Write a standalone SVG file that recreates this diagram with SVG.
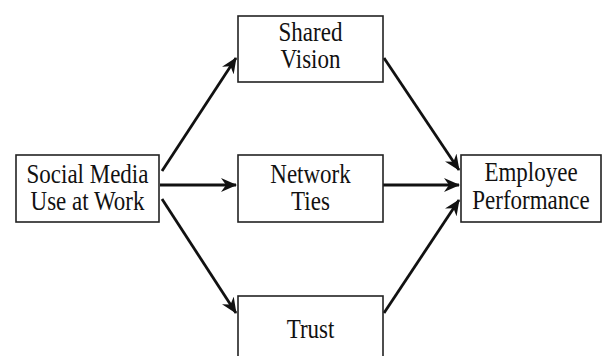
<svg xmlns="http://www.w3.org/2000/svg" width="603" height="356" viewBox="0 0 603 356">
  <defs>
    <marker id="arrow" markerWidth="16" markerHeight="14" refX="15" refY="7" orient="auto" markerUnits="userSpaceOnUse">
      <path d="M0,0 L16,7 L0,14 L5,7 Z" fill="#111"/>
    </marker>
    <style>
      .box { fill: #fff; stroke: #222; stroke-width: 1.6; }
      .label { font-family: "Liberation Serif", "Times New Roman", serif; font-size: 23px; fill: #111; text-anchor: middle; }
      .edge { stroke: #111; stroke-width: 2.8; fill: none; marker-end: url(#arrow); }
    </style>
  </defs>
  <rect width="603" height="356" fill="#fff"/>

  <g id="connectors">
    <line class="edge" x1="162" y1="171" x2="236" y2="58"/>
    <line class="edge" x1="160" y1="185" x2="236" y2="185"/>
    <line class="edge" x1="162" y1="199" x2="236" y2="313"/>
    <line class="edge" x1="384" y1="58" x2="459" y2="170"/>
    <line class="edge" x1="383" y1="185" x2="459" y2="185"/>
    <line class="edge" x1="384" y1="313" x2="459" y2="200"/>
  </g>

  <g id="social-media">
    <rect class="box" x="16" y="155" width="143" height="67"/>
    <text class="label" transform="translate(87.5,183) scale(1,1.15)">Social Media</text>
    <text class="label" transform="translate(87.5,210) scale(1,1.15)">Use at Work</text>
  </g>

  <g id="shared-vision">
    <rect class="box" x="238" y="16" width="145" height="66"/>
    <text class="label" transform="translate(310.5,41) scale(1,1.15)">Shared</text>
    <text class="label" transform="translate(310.5,68) scale(1,1.15)">Vision</text>
  </g>

  <g id="network-ties">
    <rect class="box" x="238" y="155" width="145" height="67"/>
    <text class="label" transform="translate(310.5,183) scale(1,1.15)">Network</text>
    <text class="label" transform="translate(310.5,210) scale(1,1.15)">Ties</text>
  </g>

  <g id="trust">
    <rect class="box" x="238" y="296" width="145" height="70"/>
    <text class="label" transform="translate(310.5,338) scale(1,1.15)">Trust</text>
  </g>

  <g id="employee-performance">
    <rect class="box" x="461" y="155" width="140" height="67"/>
    <text class="label" transform="translate(531,181) scale(1,1.15)">Employee</text>
    <text class="label" transform="translate(531,209) scale(1,1.15)">Performance</text>
  </g>
</svg>
